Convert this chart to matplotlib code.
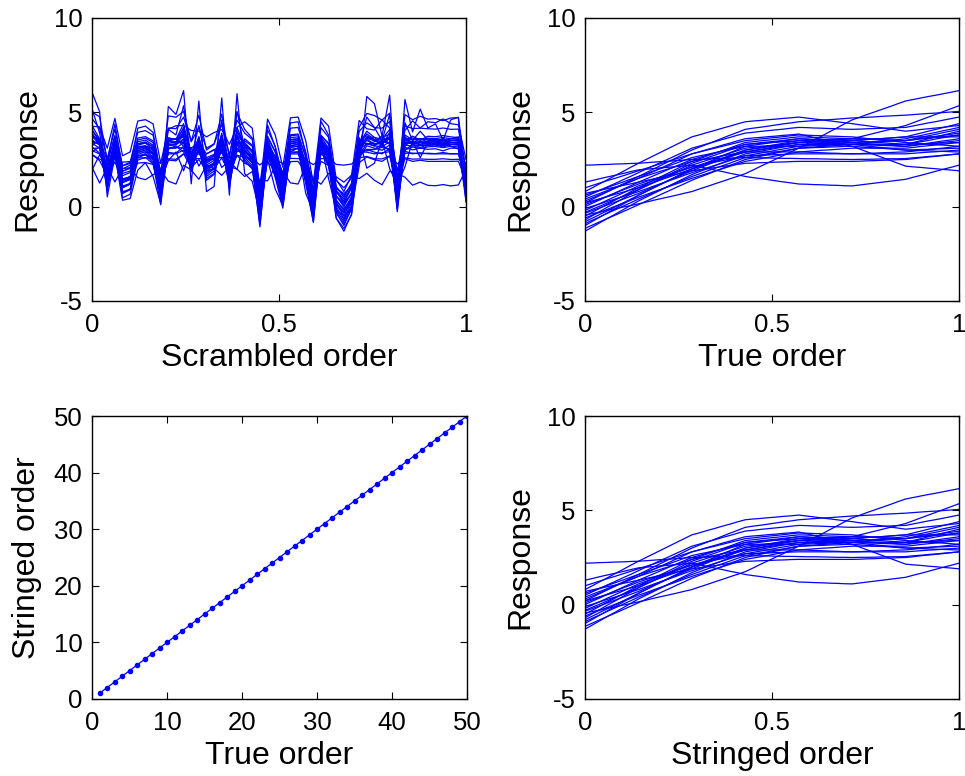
import matplotlib
matplotlib.use("Agg")
import numpy as np
import matplotlib.pyplot as plt

plt.rcParams["font.family"] = ["Liberation Sans", "DejaVu Sans"]
plt.rcParams["axes.unicode_minus"] = False

# ── response curves, 50 samples each in true order ──
r01 = [-0.45, -0.36, -0.28, -0.19, -0.11, -0.02, 0.06, 0.15, 0.24, 0.34, 0.43, 0.52, 0.61, 0.71, 0.8, 0.94, 1.07, 1.21, 1.34, 1.48, 1.61, 1.75, 1.94, 2.14, 2.33, 2.52, 2.71, 2.91, 3.1, 3.31, 3.53, 3.74, 3.96, 4.17, 4.39, 4.6, 4.74, 4.89, 5.03, 5.17, 5.31, 5.46, 5.6, 5.68, 5.76, 5.84, 5.91, 5.99, 6.07, 6.15]
r02 = [2.2, 2.21, 2.23, 2.24, 2.26, 2.27, 2.29, 2.3, 2.33, 2.36, 2.39, 2.41, 2.44, 2.47, 2.5, 2.51, 2.53, 2.54, 2.56, 2.57, 2.59, 2.6, 2.59, 2.59, 2.58, 2.57, 2.56, 2.56, 2.55, 2.54, 2.54, 2.53, 2.52, 2.51, 2.51, 2.5, 2.51, 2.51, 2.52, 2.53, 2.54, 2.54, 2.55, 2.59, 2.62, 2.66, 2.69, 2.73, 2.76, 2.8]
r03 = [1.3, 1.39, 1.49, 1.58, 1.67, 1.76, 1.86, 1.95, 1.99, 2.02, 2.06, 2.09, 2.13, 2.16, 2.2, 2.11, 2.03, 1.94, 1.86, 1.77, 1.69, 1.6, 1.54, 1.49, 1.43, 1.37, 1.31, 1.26, 1.2, 1.19, 1.17, 1.16, 1.14, 1.13, 1.11, 1.1, 1.15, 1.2, 1.25, 1.3, 1.35, 1.4, 1.45, 1.56, 1.66, 1.77, 1.88, 1.99, 2.09, 2.2]
r04 = [0.3, 0.47, 0.64, 0.81, 0.99, 1.16, 1.33, 1.5, 1.69, 1.87, 2.06, 2.24, 2.43, 2.61, 2.8, 2.91, 3.03, 3.14, 3.26, 3.37, 3.49, 3.6, 3.64, 3.67, 3.71, 3.74, 3.78, 3.81, 3.85, 3.76, 3.66, 3.57, 3.48, 3.39, 3.29, 3.2, 3.05, 2.9, 2.75, 2.6, 2.45, 2.3, 2.15, 2.11, 2.08, 2.04, 2.01, 1.97, 1.94, 1.9]
r05 = [0.8, 1.01, 1.23, 1.44, 1.66, 1.87, 2.09, 2.3, 2.5, 2.7, 2.9, 3.1, 3.3, 3.5, 3.7, 3.81, 3.93, 4.04, 4.16, 4.27, 4.39, 4.5, 4.54, 4.57, 4.61, 4.64, 4.68, 4.71, 4.75, 4.7, 4.65, 4.6, 4.55, 4.5, 4.45, 4.4, 4.34, 4.29, 4.23, 4.17, 4.11, 4.06, 4.0, 4.04, 4.09, 4.13, 4.17, 4.21, 4.26, 4.3]
r06 = [0.2, 0.4, 0.6, 0.8, 1.0, 1.2, 1.4, 1.6, 1.8, 2.0, 2.2, 2.4, 2.6, 2.8, 3.0, 3.16, 3.31, 3.47, 3.63, 3.79, 3.94, 4.1, 4.16, 4.21, 4.27, 4.33, 4.39, 4.44, 4.5, 4.53, 4.56, 4.59, 4.61, 4.64, 4.67, 4.7, 4.72, 4.74, 4.76, 4.79, 4.81, 4.83, 4.85, 4.88, 4.91, 4.94, 4.96, 4.99, 5.02, 5.05]
r07 = [-0.3, -0.13, 0.04, 0.21, 0.39, 0.56, 0.73, 0.9, 1.09, 1.27, 1.46, 1.64, 1.83, 2.01, 2.2, 2.33, 2.46, 2.59, 2.71, 2.84, 2.97, 3.1, 3.14, 3.19, 3.23, 3.27, 3.31, 3.36, 3.4, 3.43, 3.46, 3.49, 3.51, 3.54, 3.57, 3.6, 3.7, 3.8, 3.9, 4.0, 4.1, 4.2, 4.3, 4.45, 4.6, 4.75, 4.9, 5.05, 5.2, 5.35]
r08 = [0.5, 0.69, 0.87, 1.06, 1.24, 1.43, 1.61, 1.8, 1.99, 2.17, 2.36, 2.54, 2.73, 2.91, 3.1, 3.21, 3.33, 3.44, 3.56, 3.67, 3.79, 3.9, 3.94, 3.99, 4.03, 4.07, 4.11, 4.16, 4.2, 4.19, 4.17, 4.16, 4.14, 4.13, 4.11, 4.1, 4.11, 4.13, 4.14, 4.16, 4.17, 4.19, 4.2, 4.28, 4.36, 4.44, 4.51, 4.59, 4.67, 4.75]
r09 = [-0.8, -0.6, -0.4, -0.2, 0.0, 0.2, 0.4, 0.6, 0.8, 1.0, 1.2, 1.4, 1.6, 1.8, 2.0, 2.17, 2.34, 2.51, 2.69, 2.86, 3.03, 3.2, 3.26, 3.31, 3.37, 3.43, 3.49, 3.54, 3.6, 3.59, 3.57, 3.56, 3.54, 3.53, 3.51, 3.5, 3.53, 3.56, 3.59, 3.61, 3.64, 3.67, 3.7, 3.8, 3.9, 4.0, 4.1, 4.2, 4.3, 4.4]
r10 = [-1.3, -1.07, -0.84, -0.61, -0.39, -0.16, 0.07, 0.3, 0.5, 0.7, 0.9, 1.1, 1.3, 1.5, 1.7, 1.86, 2.01, 2.17, 2.33, 2.49, 2.64, 2.8, 2.87, 2.94, 3.01, 3.09, 3.16, 3.23, 3.3, 3.31, 3.33, 3.34, 3.36, 3.37, 3.39, 3.4, 3.41, 3.43, 3.44, 3.46, 3.47, 3.49, 3.5, 3.56, 3.61, 3.67, 3.73, 3.79, 3.84, 3.9]
r11 = [-1.15, -0.97, -0.79, -0.61, -0.44, -0.26, -0.08, 0.1, 0.29, 0.47, 0.66, 0.84, 1.03, 1.21, 1.4, 1.56, 1.71, 1.87, 2.03, 2.19, 2.34, 2.5, 2.59, 2.67, 2.76, 2.84, 2.93, 3.01, 3.1, 3.13, 3.16, 3.19, 3.21, 3.24, 3.27, 3.3, 3.29, 3.27, 3.26, 3.24, 3.23, 3.21, 3.2, 3.26, 3.31, 3.37, 3.43, 3.49, 3.54, 3.6]
r12 = [-1.0, -0.77, -0.54, -0.31, -0.09, 0.14, 0.37, 0.6, 0.8, 1.0, 1.2, 1.4, 1.6, 1.8, 2.0, 2.14, 2.29, 2.43, 2.57, 2.71, 2.86, 3.0, 3.06, 3.11, 3.17, 3.23, 3.29, 3.34, 3.4, 3.39, 3.37, 3.36, 3.34, 3.33, 3.31, 3.3, 3.3, 3.3, 3.3, 3.3, 3.3, 3.3, 3.3, 3.37, 3.44, 3.51, 3.59, 3.66, 3.73, 3.8]
r13 = [-0.9, -0.71, -0.53, -0.34, -0.16, 0.03, 0.21, 0.4, 0.57, 0.74, 0.91, 1.09, 1.26, 1.43, 1.6, 1.74, 1.89, 2.03, 2.17, 2.31, 2.46, 2.6, 2.67, 2.74, 2.81, 2.89, 2.96, 3.03, 3.1, 3.11, 3.13, 3.14, 3.16, 3.17, 3.19, 3.2, 3.17, 3.14, 3.11, 3.09, 3.06, 3.03, 3.0, 3.01, 3.03, 3.04, 3.06, 3.07, 3.09, 3.1]
r14 = [-0.7, -0.47, -0.24, -0.01, 0.21, 0.44, 0.67, 0.9, 1.1, 1.3, 1.5, 1.7, 1.9, 2.1, 2.3, 2.44, 2.59, 2.73, 2.87, 3.01, 3.16, 3.3, 3.34, 3.39, 3.43, 3.47, 3.51, 3.56, 3.6, 3.57, 3.54, 3.51, 3.49, 3.46, 3.43, 3.4, 3.37, 3.34, 3.31, 3.29, 3.26, 3.23, 3.2, 3.24, 3.29, 3.33, 3.37, 3.41, 3.46, 3.5]
r15 = [-0.6, -0.44, -0.29, -0.13, 0.03, 0.19, 0.34, 0.5, 0.64, 0.79, 0.93, 1.07, 1.21, 1.36, 1.5, 1.63, 1.76, 1.89, 2.01, 2.14, 2.27, 2.4, 2.47, 2.54, 2.61, 2.69, 2.76, 2.83, 2.9, 2.93, 2.96, 2.99, 3.01, 3.04, 3.07, 3.1, 3.1, 3.1, 3.1, 3.1, 3.1, 3.1, 3.1, 3.14, 3.19, 3.23, 3.27, 3.31, 3.36, 3.4]
r16 = [-0.5, -0.29, -0.07, 0.14, 0.36, 0.57, 0.79, 1.0, 1.2, 1.4, 1.6, 1.8, 2.0, 2.2, 2.4, 2.54, 2.69, 2.83, 2.97, 3.11, 3.26, 3.4, 3.44, 3.49, 3.53, 3.57, 3.61, 3.66, 3.7, 3.69, 3.67, 3.66, 3.64, 3.63, 3.61, 3.6, 3.59, 3.57, 3.56, 3.54, 3.53, 3.51, 3.5, 3.59, 3.67, 3.76, 3.84, 3.93, 4.01, 4.1]
r17 = [-0.2, -0.01, 0.17, 0.36, 0.54, 0.73, 0.91, 1.1, 1.24, 1.39, 1.53, 1.67, 1.81, 1.96, 2.1, 2.21, 2.33, 2.44, 2.56, 2.67, 2.79, 2.9, 2.96, 3.01, 3.07, 3.13, 3.19, 3.24, 3.3, 3.3, 3.3, 3.3, 3.3, 3.3, 3.3, 3.3, 3.26, 3.21, 3.17, 3.13, 3.09, 3.04, 3.0, 2.99, 2.97, 2.96, 2.94, 2.93, 2.91, 2.9]
r18 = [0.0, 0.19, 0.37, 0.56, 0.74, 0.93, 1.11, 1.3, 1.47, 1.64, 1.81, 1.99, 2.16, 2.33, 2.5, 2.61, 2.73, 2.84, 2.96, 3.07, 3.19, 3.3, 3.33, 3.36, 3.39, 3.41, 3.44, 3.47, 3.5, 3.47, 3.44, 3.41, 3.39, 3.36, 3.33, 3.3, 3.3, 3.3, 3.3, 3.3, 3.3, 3.3, 3.3, 3.4, 3.5, 3.6, 3.7, 3.8, 3.9, 4.0]
r19 = [0.1, 0.26, 0.41, 0.57, 0.73, 0.89, 1.04, 1.2, 1.33, 1.46, 1.59, 1.71, 1.84, 1.97, 2.1, 2.19, 2.27, 2.36, 2.44, 2.53, 2.61, 2.7, 2.71, 2.73, 2.74, 2.76, 2.77, 2.79, 2.8, 2.8, 2.8, 2.8, 2.8, 2.8, 2.8, 2.8, 2.81, 2.83, 2.84, 2.86, 2.87, 2.89, 2.9, 2.94, 2.99, 3.03, 3.07, 3.11, 3.16, 3.2]
r20 = [0.4, 0.56, 0.71, 0.87, 1.03, 1.19, 1.34, 1.5, 1.63, 1.76, 1.89, 2.01, 2.14, 2.27, 2.4, 2.47, 2.54, 2.61, 2.69, 2.76, 2.83, 2.9, 2.9, 2.9, 2.9, 2.9, 2.9, 2.9, 2.9, 2.89, 2.87, 2.86, 2.84, 2.83, 2.81, 2.8, 2.8, 2.8, 2.8, 2.8, 2.8, 2.8, 2.8, 2.83, 2.86, 2.89, 2.91, 2.94, 2.97, 3.0]
r21 = [0.6, 0.74, 0.89, 1.03, 1.17, 1.31, 1.46, 1.6, 1.74, 1.89, 2.03, 2.17, 2.31, 2.46, 2.6, 2.69, 2.77, 2.86, 2.94, 3.03, 3.11, 3.2, 3.2, 3.2, 3.2, 3.2, 3.2, 3.2, 3.2, 3.21, 3.23, 3.24, 3.26, 3.27, 3.29, 3.3, 3.34, 3.39, 3.43, 3.47, 3.51, 3.56, 3.6, 3.69, 3.77, 3.86, 3.94, 4.03, 4.11, 4.2]
r22 = [0.7, 0.79, 0.87, 0.96, 1.04, 1.13, 1.21, 1.3, 1.39, 1.47, 1.56, 1.64, 1.73, 1.81, 1.9, 1.96, 2.01, 2.07, 2.13, 2.19, 2.24, 2.3, 2.31, 2.33, 2.34, 2.36, 2.37, 2.39, 2.4, 2.4, 2.4, 2.4, 2.4, 2.4, 2.4, 2.4, 2.41, 2.43, 2.44, 2.46, 2.47, 2.49, 2.5, 2.54, 2.59, 2.63, 2.67, 2.71, 2.76, 2.8]
r23 = [1.0, 1.13, 1.26, 1.39, 1.51, 1.64, 1.77, 1.9, 2.03, 2.16, 2.29, 2.41, 2.54, 2.67, 2.8, 2.9, 3.0, 3.1, 3.2, 3.3, 3.4, 3.5, 3.54, 3.59, 3.63, 3.67, 3.71, 3.76, 3.8, 3.79, 3.77, 3.76, 3.74, 3.73, 3.71, 3.7, 3.66, 3.61, 3.57, 3.53, 3.49, 3.44, 3.4, 3.37, 3.34, 3.31, 3.29, 3.26, 3.23, 3.2]
r24 = [-0.1, 0.03, 0.16, 0.29, 0.41, 0.54, 0.67, 0.8, 0.94, 1.09, 1.23, 1.37, 1.51, 1.66, 1.8, 1.93, 2.06, 2.19, 2.31, 2.44, 2.57, 2.7, 2.77, 2.84, 2.91, 2.99, 3.06, 3.13, 3.2, 3.24, 3.29, 3.33, 3.37, 3.41, 3.46, 3.5, 3.53, 3.56, 3.59, 3.61, 3.64, 3.67, 3.7, 3.7, 3.7, 3.7, 3.7, 3.7, 3.7, 3.7]
r25 = [0.2, 0.31, 0.43, 0.54, 0.66, 0.77, 0.89, 1.0, 1.14, 1.29, 1.43, 1.57, 1.71, 1.86, 2.0, 2.13, 2.26, 2.39, 2.51, 2.64, 2.77, 2.9, 2.97, 3.04, 3.11, 3.19, 3.26, 3.33, 3.4, 3.41, 3.43, 3.44, 3.46, 3.47, 3.49, 3.5, 3.47, 3.44, 3.41, 3.39, 3.36, 3.33, 3.3, 3.31, 3.33, 3.34, 3.36, 3.37, 3.39, 3.4]
r26 = [-0.35, -0.2, -0.05, 0.1, 0.25, 0.4, 0.55, 0.7, 0.87, 1.04, 1.21, 1.39, 1.56, 1.73, 1.9, 2.06, 2.21, 2.37, 2.53, 2.69, 2.84, 3.0, 3.07, 3.14, 3.21, 3.29, 3.36, 3.43, 3.5, 3.51, 3.53, 3.54, 3.56, 3.57, 3.59, 3.6, 3.59, 3.57, 3.56, 3.54, 3.53, 3.51, 3.5, 3.54, 3.59, 3.63, 3.67, 3.71, 3.76, 3.8]

curves = [r01, r02, r03, r04, r05, r06, r07, r08, r09, r10, r11, r12, r13,
          r14, r15, r16, r17, r18, r19, r20, r21, r22, r23, r24, r25, r26]

# sample index shown at each scrambled position
scramble_order = [48, 38, 11, 26, 9, 10, 22, 24, 20, 7, 40, 37, 49, 17, 42, 14, 16,
                  44, 12, 47, 21, 18, 1, 25, 15, 6, 27, 28, 13, 2, 29, 19, 3, 0,
                  4, 23, 45, 41, 31, 46, 5, 43, 32, 39, 33, 34, 30, 35, 36, 8]

true_order = list(range(1, 51))
stringed_order = list(range(1, 51))

resp_ticks = [-5, 0, 5, 10]
unit_ticks = [0, 0.5, 1]
unit_labels = ["0", "0.5", "1"]
order_ticks = [0, 10, 20, 30, 40, 50]

BLUE = "#0000ff"
TICK_FS = 18.5
LABEL_FS = 23
LW = 0.9

x = np.linspace(0, 1, len(r01))
Y = np.array(curves)
Y_scr = Y[:, scramble_order]


def style(ax):
    for sp in ax.spines.values():
        sp.set_linewidth(1.0)
        sp.set_color("black")
    ax.tick_params(direction="in", top=True, right=True, length=5, width=0.8,
                   labelsize=TICK_FS, colors="black")
    ax.tick_params(axis="x", pad=9)
    ax.tick_params(axis="y", pad=7)


def response_axes(ax, xs, ys, xlabel):
    for row in ys:
        ax.plot(xs, row, color=BLUE, lw=LW)
    ax.set_xlim(0, 1)
    ax.set_ylim(-5, 10)
    ax.set_xticks(unit_ticks)
    ax.set_xticklabels(unit_labels)
    ax.set_yticks(resp_ticks)
    ax.set_xlabel(xlabel, fontsize=LABEL_FS, labelpad=4)
    ax.set_ylabel("Response", fontsize=LABEL_FS, labelpad=8)
    style(ax)


fig = plt.figure(figsize=(9.65, 7.76), dpi=100)
W, H = 965, 776


def box(l, t, r, b):
    return [l / W, 1 - b / H, (r - l) / W, (b - t) / H]


ax_scr = fig.add_axes(box(92, 18, 466, 301))
ax_true = fig.add_axes(box(585, 18, 959, 301))
ax_ord = fig.add_axes(box(92, 416, 467, 699))
ax_str = fig.add_axes(box(585, 416, 959, 699))

response_axes(ax_scr, x, Y_scr, "Scrambled order")
response_axes(ax_true, x, Y, "True order")
response_axes(ax_str, x, Y, "Stringed order")

ax_ord.plot(true_order, stringed_order, color=BLUE, lw=LW, marker=".",
            markersize=6)
ax_ord.set_xlim(0, 50)
ax_ord.set_ylim(0, 50)
ax_ord.set_xticks(order_ticks)
ax_ord.set_yticks(order_ticks)
ax_ord.set_xlabel("True order", fontsize=LABEL_FS, labelpad=4)
ax_ord.set_ylabel("Stringed order", fontsize=LABEL_FS, labelpad=8)
style(ax_ord)

fig.savefig("out.png", dpi=100)
